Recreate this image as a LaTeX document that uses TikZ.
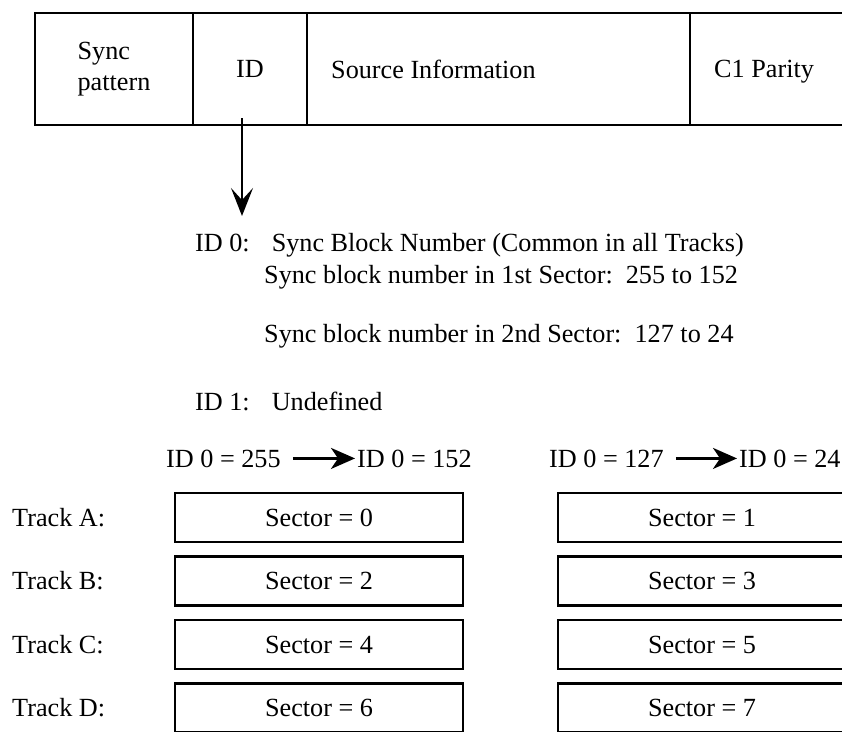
\documentclass[tikz,border=0pt]{standalone}
\usepackage{fontspec}
\setmainfont{Liberation Serif}
\usetikzlibrary{arrows.meta}
\begin{document}
\begin{tikzpicture}[x=1pt,y=-1pt,font=\fontsize{26.2}{31}\selectfont,
        cell/.style={draw,line width=2.5pt,minimum height=112pt,inner sep=0pt,outer sep=0pt,anchor=north west},
        sector/.style={draw,line width=2.5pt,minimum width=288pt,minimum height=49pt,inner sep=0pt,outer sep=0pt,anchor=north west},
        txt/.style={anchor=base west,inner sep=0pt},
        track/.style={anchor=west,inner sep=0pt},
        idarrow/.style={line width=2pt,-{Stealth[length=28pt,width=22pt,inset=12pt]}},
        steparrow/.style={line width=2.5pt,-{Stealth[length=24pt,width=21pt,inset=7pt]},shorten <=12pt,shorten >=2pt}]
        \useasboundingbox (0,0) rectangle (842,731);
        \clip (0,0) rectangle (842,731);
        % sync block layout
        \node[cell,minimum width=158pt,align=left] (sync) at (35,13) {Sync\\pattern};
        \node[cell,minimum width=114pt,text depth=0pt] (id) at (sync.north east) {ID};
        \node[cell,minimum width=383pt] (src) at (id.north east) {};
        \node[cell,minimum width=200pt] (par) at (src.north east) {};
        \node[track,text depth=0pt] (srctxt) at ([xshift=24pt]src.west) {Source Information};
        \node[track,text depth=0pt] (partxt) at ([xshift=24pt]par.west) {C1 Parity};
        \draw[idarrow] ([xshift=-8pt,yshift=7pt]id.south) -- ++(0,98);
        % meaning of the ID bytes
        \node[txt] (id0) at (195,251) {ID 0:\hspace{22pt}Sync Block Number (Common in all Tracks)};
        \node[txt] (first) at (264,283) {Sync block number in 1st Sector:\ \ 255 to 152};
        \node[txt] (second) at (264,342) {Sync block number in 2nd Sector:\ \ 127 to 24};
        \node[txt] (id1) at (195,410) {ID 1:\hspace{22pt}Undefined};
        % sector order on the tracks
        \node[txt] (firsta) at (166,467) {ID 0 = 255};
        \node[txt] (firstb) at (357,467) {ID 0 = 152};
        \node[txt] (seconda) at (549,467) {ID 0 = 127};
        \node[txt] (secondb) at (739,467) {ID 0 = 24};
        \draw[steparrow] (firsta.east) -- (firstb.west);
        \draw[steparrow] (seconda.east) -- (secondb.west);
        \node[sector] (s0) at (175,493) {Sector = 0};
        \node[sector] (s1) at (558,493) {Sector = 1};
        \node[sector] (s2) at (175,556.5) {Sector = 2};
        \node[sector] (s3) at (558,556.5) {Sector = 3};
        \node[sector] (s4) at (175,620) {Sector = 4};
        \node[sector] (s5) at (558,620) {Sector = 5};
        \node[sector] (s6) at (175,683.5) {Sector = 6};
        \node[sector] (s7) at (558,683.5) {Sector = 7};
        \node[track] (ta) at (12,0 |- s0.west) {Track A:};
        \node[track] (tb) at (12,0 |- s2.west) {Track B:};
        \node[track] (tc) at (12,0 |- s4.west) {Track C:};
        \node[track] (td) at (12,0 |- s6.west) {Track D:};
\end{tikzpicture}
\end{document}
